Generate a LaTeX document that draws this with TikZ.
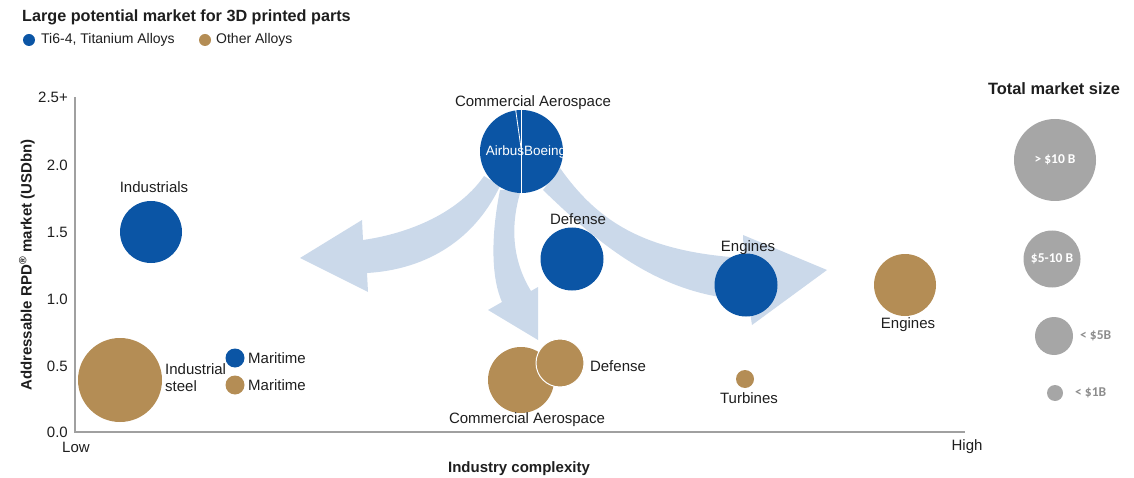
\documentclass[tikz,border=0pt]{standalone}
\usepackage{fontspec}
\setmainfont{Liberation Sans}
\newfontfamily\calfont{Carlito}
\definecolor{tiblue}{RGB}{11,85,165}
\definecolor{tan}{RGB}{180,141,85}
\definecolor{arrowc}{RGB}{203,217,234}
\definecolor{lgray}{RGB}{166,166,166}
\definecolor{axisgray}{RGB}{160,160,160}
\definecolor{txt}{RGB}{30,30,30}
\begin{document}
\begin{tikzpicture}[x=1pt,y=-1pt,
  bb/.style={circle,inner sep=0pt,fill=tiblue,minimum size=#1},
  tb/.style={circle,inner sep=0pt,fill=tan,minimum size=#1},
  gb/.style={circle,inner sep=0pt,fill=lgray,minimum size=#1},
  lbl/.style={inner sep=0pt,text=txt,font=\fontsize{15}{17}\selectfont},
  tick/.style={inner sep=0pt,text=txt,font=\fontsize{15}{17}\selectfont,anchor=east},
  boldlbl/.style={inner sep=0pt,text=txt,font=\fontsize{15}{17}\selectfont\bfseries},
  inlbl/.style={inner sep=0pt,text=white,font=\calfont\fontsize{13.5}{15}\selectfont\bfseries},
  outlbl/.style={inner sep=0pt,text=lgray!85!black,font=\calfont\fontsize{13.5}{15}\selectfont\bfseries,anchor=west},
  axisline/.style={draw=axisgray,line width=1.3pt},
  bigarrow/.style={fill=arrowc}
]
\useasboundingbox (0,0) rectangle (1134,478);

% title and legend
\node[inner sep=0pt,anchor=west,text=txt,font=\fontsize{16.2}{18}\selectfont\bfseries] (title) at (22,17) {Large potential market for 3D printed parts};
\node[bb=12pt] (lgb) at (29,40) {};
\node[inner sep=0pt,anchor=west,text=txt,font=\fontsize{14}{16}\selectfont] (lgbt) at (41,40) {Ti6-4, Titanium Alloys};
\node[tb=12pt] (lgt) at (205,40) {};
\node[inner sep=0pt,anchor=west,text=txt,font=\fontsize{14}{16}\selectfont] (lgtt) at (216,40) {Other Alloys};

% axes
\coordinate (ytop) at (75,97);
\coordinate (orig) at (75,432);
\coordinate (xend) at (965,432);
\draw[axisline] (ytop) -- (orig) -- (xend);
\node[tick] (t25) at (68,97) {2.5+};
\node[tick] (t20) at (68,165) {2.0};
\node[tick] (t15) at (68,232) {1.5};
\node[tick] (t10) at (68,299) {1.0};
\node[tick] (t05) at (68,366) {0.5};
\node[tick] (t00) at (68,432) {0.0};
\node[lbl] (low) at (76,447) {Low};
\node[lbl] (high) at (967,447) {High};
\node[boldlbl,rotate=90] (ytitle) at (27,265) {Addressable RPD\textsuperscript{®} market (USDbn)};
\node[boldlbl] (xtitle) at (519,469) {Industry complexity};

% big arrows
\fill[bigarrow] (500,186) .. controls (472,245) and (420,270) .. (367,273) -- (368,292) -- (300,258) -- (362,220) -- (363,240) .. controls (418,232) and (462,208) .. (484,176) -- cycle;
\fill[bigarrow] (500,190) .. controls (490,240) and (492,280) .. (502,302) -- (488,310) -- (538,340) -- (538,287) -- (531,291) .. controls (512,260) and (510,225) .. (521,190) -- cycle;
\fill[bigarrow] (560,168) .. controls (598,222) and (645,252) .. (744,258) -- (743,235) -- (827,270) -- (752,325) -- (748,300) .. controls (660,296) and (600,245) .. (543,190) -- cycle;

% titanium bubbles
\node[bb=83pt] (caB) at (521.5,151.5) {};
\draw[white,line width=0.8pt] (caB.north) -- (caB.south);
\draw[white,line width=0.8pt] (caB.center) -- (caB.98);
\begin{scope}
  \clip (caB) circle (41.5pt);
  \node[inner sep=0pt,text=white,font=\fontsize{13.5}{15}\selectfont] (airbus) at (526,152) {AirbusBoeing};
\end{scope}
\node[lbl] (caBl) at (533,103) {Commercial Aerospace};
\node[bb=62pt] (indB) at (151,232) {};
\node[lbl] (indBl) at (154,187) {Industrials};
\node[bb=63pt] (defB) at (572,259) {};
\node[lbl] (defBl) at (578,219) {Defense};
\node[bb=63pt] (engB) at (746,285) {};
\node[lbl] (engBl) at (748,248) {Engines};
\node[bb=19pt] (marB) at (235,358) {};
\node[lbl,anchor=west] (marBl) at (248,358) {Maritime};

% other alloys bubbles
\node[tb=84pt] (steelT) at (120,380) {};
\node[lbl,anchor=west,align=left,font=\fontsize{15}{17}\selectfont] (steelTl) at (165,378) {Industrial\\steel};
\node[tb=19pt] (marT) at (235,385) {};
\node[lbl,anchor=west] (marTl) at (248,385) {Maritime};
\node[tb=66pt] (caT) at (521,380) {};
\node[tb=48pt,draw=white,line width=1pt] (defT) at (560,363) {};
\node[lbl] (defTl) at (618,366) {Defense};
\node[lbl] (caTl) at (527,420) {Commercial Aerospace};
\node[tb=18pt] (turT) at (745,379) {};
\node[lbl] (turTl) at (749,398) {Turbines};
\node[tb=62pt] (engT) at (905,285) {};
\node[lbl] (engTl) at (908,325) {Engines};

% size legend
\node[inner sep=0pt,text=txt,font=\fontsize{16.4}{18}\selectfont\bfseries] (sizetitle) at (1054,89) {Total market size};
\node[gb=82pt] (s1) at (1055,160) {};
\node[inlbl] (s1l) at (s1) {> \$10 B};
\node[gb=57pt] (s2) at (1052,259) {};
\node[inlbl] (s2l) at (s2) {\$5-10 B};
\node[gb=38pt] (s3) at (1054,336) {};
\node[outlbl] (s3l) at (1080,336) {< \$5B};
\node[gb=16pt] (s4) at (1055,393) {};
\node[outlbl] (s4l) at (1075,393) {< \$1B};
\end{tikzpicture}
\end{document}
